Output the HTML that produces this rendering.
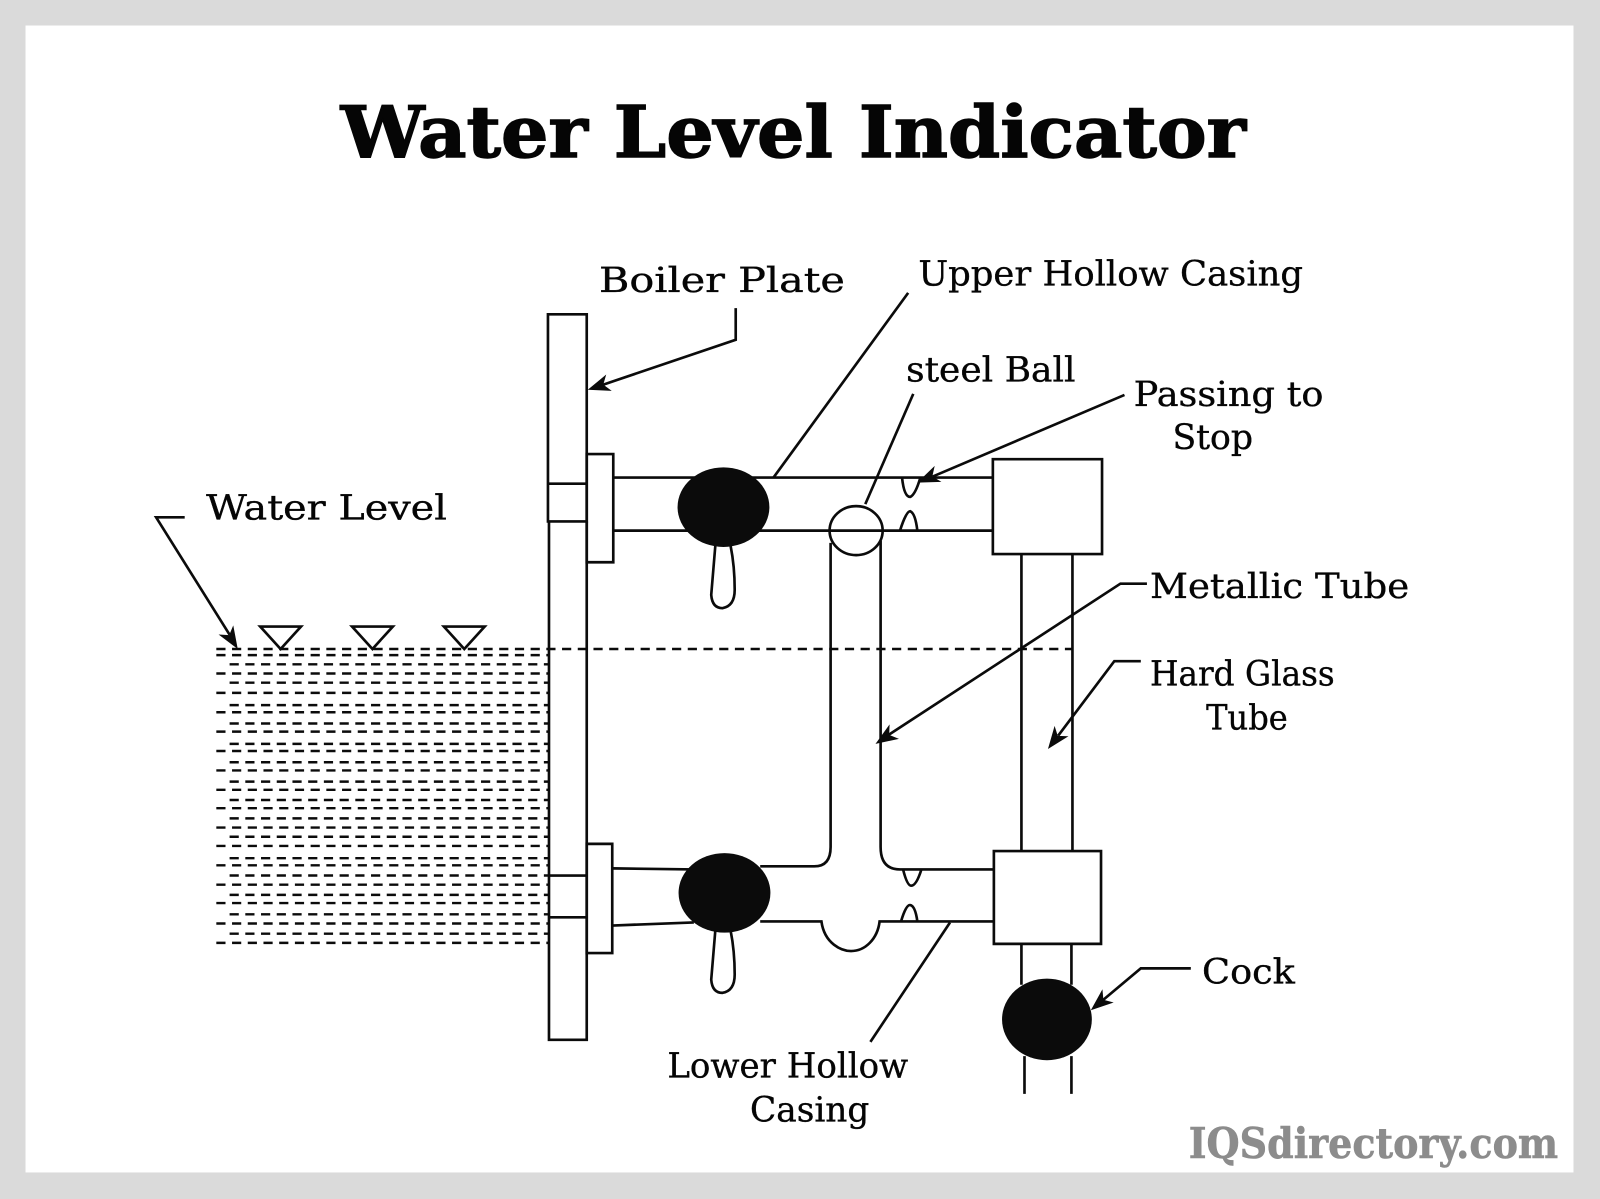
<!DOCTYPE html>
<html><head><meta charset="utf-8"><style>
html,body{margin:0;padding:0;background:#dadada}
svg{display:block}
text{font-family:"DejaVu Serif","Liberation Serif",serif;fill:#050505;stroke:#050505;stroke-width:.35;font-size:34px}
.l{fill:none;stroke:#0b0b0b;stroke-width:2.6}
.b{fill:#0b0b0b;stroke:none}
.d{fill:none;stroke:#0b0b0b;stroke-width:2.4;stroke-dasharray:9 6.4}
</style></head><body>
<svg width="1600" height="1199" viewBox="0 0 1568 1175" xmlns="http://www.w3.org/2000/svg">
<rect width="1568" height="1175" fill="#dadada"/>
<rect x="25" y="25" width="1517" height="1124" fill="#fff"/>
<text x="334" y="154" style="font-weight:700;font-size:70px;stroke-width:1.4" textLength="887" lengthAdjust="spacingAndGlyphs">Water Level Indicator</text>
<text x="587" y="286" textLength="241" lengthAdjust="spacingAndGlyphs">Boiler Plate</text>
<text x="900" y="280" textLength="377" lengthAdjust="spacingAndGlyphs">Upper Hollow Casing</text>
<text x="888" y="374" textLength="166" lengthAdjust="spacingAndGlyphs">steel Ball</text>
<text x="1111" y="398" textLength="186" lengthAdjust="spacingAndGlyphs">Passing to</text>
<text x="1149" y="440" textLength="79" lengthAdjust="spacingAndGlyphs">Stop</text>
<text x="202" y="509" textLength="236" lengthAdjust="spacingAndGlyphs">Water Level</text>
<text x="1127" y="586" textLength="254" lengthAdjust="spacingAndGlyphs">Metallic Tube</text>
<text x="1127" y="672" textLength="181" lengthAdjust="spacingAndGlyphs">Hard Glass</text>
<text x="1182" y="715" textLength="80" lengthAdjust="spacingAndGlyphs">Tube</text>
<text x="1178" y="964" textLength="91" lengthAdjust="spacingAndGlyphs">Cock</text>
<text x="654" y="1056" textLength="236" lengthAdjust="spacingAndGlyphs">Lower Hollow</text>
<text x="735" y="1099" textLength="117" lengthAdjust="spacingAndGlyphs">Casing</text>
<text x="1165" y="1135" style="font-weight:700;font-size:41px;fill:#8c8c8c;stroke:#8c8c8c;stroke-width:.6" textLength="362" lengthAdjust="spacingAndGlyphs">IQSdirectory.com</text>

<!-- water dashes -->
<g class="d">
<path d="M212 636H1051"/>
<path d="M212 642H538"/><path d="M225 651H538"/><path d="M212 660H538"/><path d="M225 669H538"/><path d="M212 679H538"/><path d="M225 691H538"/><path d="M212 698H538"/><path d="M225 709H538"/><path d="M212 717H538"/><path d="M225 729H538"/><path d="M212 736H538"/><path d="M225 747H538"/><path d="M212 755H538"/><path d="M225 766H538"/><path d="M212 774H538"/><path d="M225 784H538"/><path d="M212 792H538"/><path d="M225 802H538"/><path d="M212 811H538"/><path d="M225 820H538"/><path d="M212 829H538"/><path d="M225 841H538"/><path d="M212 848H538"/><path d="M225 858H538"/><path d="M212 867H538"/><path d="M225 877H538"/><path d="M212 885H538"/><path d="M225 896H538"/><path d="M212 905H538"/><path d="M225 915H538"/><path d="M212 924H538"/>
</g>
<g class="l">
<path d="M255 614H295L275 636Z"/><path d="M345 614H385L365 636Z"/><path d="M435 614H475L455 636Z"/>
<!-- plate -->
<path d="M537 308H575V511H537Z"/><path d="M537 474H575"/>
<path d="M538 511V1019H575V511"/><path d="M538 858H575M538 899H575"/>
<path d="M575 445H601V551H575Z"/><path d="M575 827H600V934H575Z"/>
<!-- upper pipe -->
<path d="M601 468H973M601 520H973"/>
<path d="M973 450H1080V543H973Z"/>
<path d="M1001 543V834M1051 543V834"/>
<path d="M974 834H1079V925H974Z"/>
<path d="M1001 925V965M1050 925V965M1004 1035V1072M1050 1035V1072"/>
<!-- metallic tube -->
<path d="M814 532V830Q814 849 798 849H745"/>
<path d="M863 530V830Q863 852 882 852H974"/>
<path d="M600 851L680 852M600 907L680 904"/>
<path d="M745 903H805C808 925 825 932 834 932C848 932 860 920 862 903H974"/>
<ellipse cx="839" cy="520" rx="26" ry="24"/>
<!-- stops -->
<path d="M884 468Q886 487 892 487Q897 485 902 468"/>
<path d="M882 520Q888 501 892 501Q897 503 899 520"/>
<path d="M885 852Q889 868 893 868Q898 868 903 852"/>
<path d="M883 903Q888 886 892 887Q897 888 899 903"/>
<!-- stems -->
<path d="M701 535L697 583Q698 596 708 596Q720 594 720 578Q720 555 716 535"/>
<path d="M701 912L697 960Q698 973 708 973Q720 971 720 955Q720 932 716 912"/>
<!-- leaders -->
<path d="M721 302V333L591 377"/>
<path d="M890 287L758 468"/>
<path d="M895 386L848 494"/>
<path d="M1102 387L914 467"/>
<path d="M1124 572H1098L871 720"/>
<path d="M1118 648H1092L1037 721"/>
<path d="M1167 949H1118L1081 980"/>
<path d="M931 904L853 1021"/>
<path d="M181 507H153L225 622"/>
</g>
<ellipse class="b" cx="709" cy="497" rx="45" ry="39"/>
<ellipse class="b" cx="710" cy="875" rx="45" ry="39"/>
<ellipse class="b" cx="1026" cy="999" rx="44" ry="40"/>
<!-- arrowheads -->
<path class="b" d="M576 382L594.1 367L591.2 376.9L599.5 383Z"/>
<path class="b" d="M899 473L916 456.6L913.7 466.8L922.6 472.2Z"/>
<path class="b" d="M858 729L871.8 709.9L871.4 720.2L881 724.1Z"/>
<path class="b" d="M1027 734L1033.5 711.3L1036.6 721.2L1047.1 721.5Z"/>
<path class="b" d="M1069 990L1080.4 969.4L1081.3 979.7L1091.4 982.4Z"/>
<path class="b" d="M233 636L228.6 612.8L224.6 622.4L214.2 621.8Z"/>
</svg>
</body></html>
